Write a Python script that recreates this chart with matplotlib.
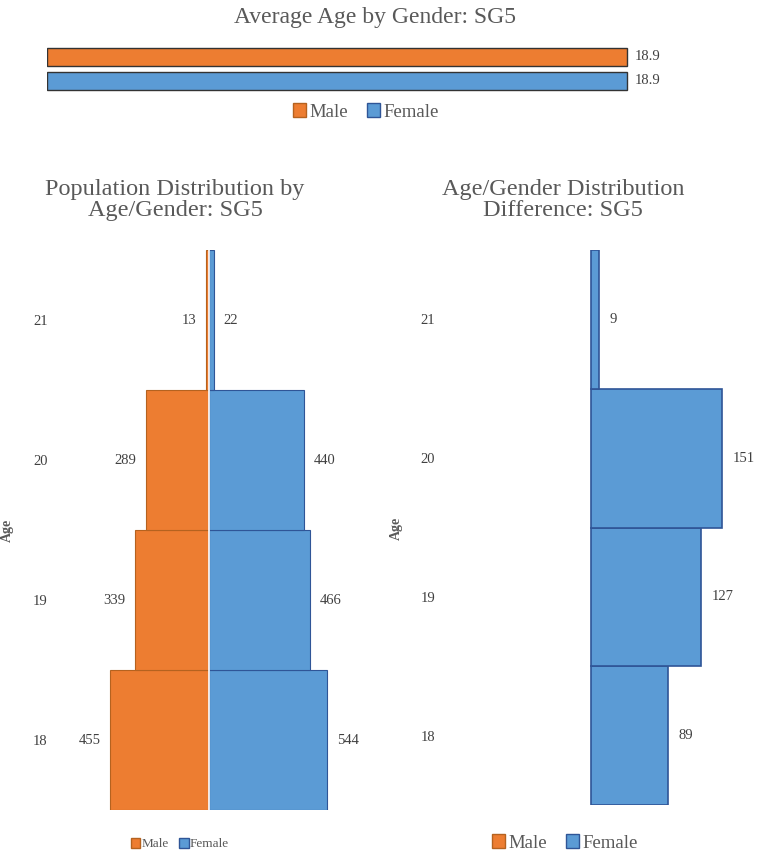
import matplotlib
matplotlib.use("Agg")
import matplotlib.pyplot as plt
from matplotlib.patches import Patch

# ---- data ----
genders = ["Male", "Female"]
avg_age = [18.9, 18.9]
ages = ["18", "19", "20", "21"]
male_counts = [455, 339, 289, 13]
female_counts = [544, 466, 440, 22]
diff_values = [89, 127, 151, 9]

ORANGE = "#ED7D31"
BLUE = "#5B9BD5"
ORANGE_E = "#B5621F"
BLUE_E = "#2F5597"
TXT = "#595959"
VAL = "#404040"
FONT = ["Liberation Serif", "DejaVu Serif"]
plt.rcParams["font.family"] = FONT

W, H = 761, 857
fig = plt.figure(figsize=(W / 100, H / 100), dpi=100)


def ax_px(x0, y0, x1, y1):
    return fig.add_axes([x0 / W, 1 - y1 / H, (x1 - x0) / W, (y1 - y0) / H])


def clean(ax):
    for s in ax.spines.values():
        s.set_visible(False)
    ax.tick_params(length=0)


# ---- top: average age ----
ax0 = ax_px(47, 45, 661, 93)
ypos = [1, 0]
cols = [ORANGE, BLUE]
for g, v, y, c in zip(genders, avg_age, ypos, cols):
    ax0.barh(y, v, height=0.78, color=c, edgecolor="#333333", linewidth=1.0, label=g)
    ax0.text(v + 0.25, y, f"{v:.1f}", va="center", ha="left", fontsize=10.5, color=VAL)
ax0.set_xlim(0, 20)
ax0.set_ylim(-0.5, 1.5)
ax0.set_xticks([])
ax0.set_yticks([])
clean(ax0)
fig.text(375 / W, 1 - 18 / H, "Average Age by Gender: SG5", ha="center", va="center",
         fontsize=17, color=TXT)
fig.legend(handles=[Patch(facecolor=ORANGE, edgecolor=ORANGE_E, label="Male"),
                    Patch(facecolor=BLUE, edgecolor=BLUE_E, label="Female")],
           loc="center", bbox_to_anchor=(366 / W, 1 - 112 / H), ncol=2, frameon=False,
           fontsize=13.5, handlelength=0.7, handleheight=0.7, handletextpad=0.2,
           columnspacing=1.0, labelcolor=TXT)

# ---- left: population pyramid ----
scale = 0.217  # px per unit
ax1 = ax_px(60, 250, 360, 810)
yy = list(range(len(ages)))
ax1.barh(yy, [-m for m in male_counts], height=1.0, color=ORANGE, edgecolor=ORANGE_E,
         linewidth=0.8, label="Male")
ax1.barh(yy, female_counts, height=1.0, color=BLUE, edgecolor=BLUE_E,
         linewidth=0.8, label="Female")
ax1.axvline(0, color="white", linewidth=1.2)
for y, m, f in zip(yy, male_counts, female_counts):
    ax1.text(-m - 45, y, str(m), ha="right", va="center", fontsize=10.5, color=VAL)
    ax1.text(f + 45, y, str(f), ha="left", va="center", fontsize=10.5, color=VAL)
ax1.set_xlim(-(209 - 60) / scale, (360 - 209) / scale)
ax1.set_ylim(-0.5, len(ages) - 0.5)
ax1.set_xticks([])
ax1.set_yticks(yy)
ax1.set_yticklabels(ages, fontsize=10.5, color=VAL)
ax1.tick_params(axis="y", pad=9)
clean(ax1)
ax1.set_ylabel("Age", fontsize=10, color=TXT, fontweight="bold")
ax1.yaxis.set_label_coords(14 / W, 1 - 530 / H, transform=fig.transFigure)
fig.text(175 / W, 1 - 200 / H, "Population Distribution by\nAge/Gender: SG5", ha="center",
         va="center", fontsize=17.5, color=TXT, linespacing=1.05)
fig.legend(handles=[Patch(facecolor=ORANGE, edgecolor=ORANGE_E, label="Male"),
                    Patch(facecolor=BLUE, edgecolor=BLUE_E, label="Female")],
           loc="center", bbox_to_anchor=(180 / W, 1 - 844 / H), ncol=2, frameon=False,
           fontsize=9.5, handlelength=0.7, handleheight=0.8, handletextpad=0.1,
           columnspacing=0.8, labelcolor=TXT)

# ---- right: difference ----
scale2 = 0.868
ax2 = ax_px(445, 250, 760, 805)
ax2.barh(yy, diff_values, height=1.0, color=BLUE, edgecolor=BLUE_E, linewidth=1.2)
for y, d in zip(yy, diff_values):
    ax2.text(d + 12, y, str(d), ha="left", va="center", fontsize=10.5, color=VAL)
ax2.set_xlim(-(591 - 445) / scale2, (760 - 591) / scale2)
ax2.set_ylim(-0.5, len(ages) - 0.5)
ax2.set_xticks([])
ax2.set_yticks(yy)
ax2.set_yticklabels(ages, fontsize=10.5, color=VAL)
ax2.tick_params(axis="y", pad=7)
clean(ax2)
ax2.set_ylabel("Age", fontsize=10, color=TXT, fontweight="bold")
ax2.yaxis.set_label_coords(403 / W, 1 - 528 / H, transform=fig.transFigure)
fig.text(563 / W, 1 - 200 / H, "Age/Gender Distribution\nDifference: SG5", ha="center",
         va="center", fontsize=17.5, color=TXT, linespacing=1.05)
fig.legend(handles=[Patch(facecolor=ORANGE, edgecolor=ORANGE_E, label="Male"),
                    Patch(facecolor=BLUE, edgecolor=BLUE_E, label="Female")],
           loc="center", bbox_to_anchor=(565 / W, 1 - 843 / H), ncol=2, frameon=False,
           fontsize=13.5, handlelength=0.7, handleheight=0.7, handletextpad=0.2,
           columnspacing=1.0, labelcolor=TXT)

fig.savefig("out.png", dpi=100, facecolor="white")
